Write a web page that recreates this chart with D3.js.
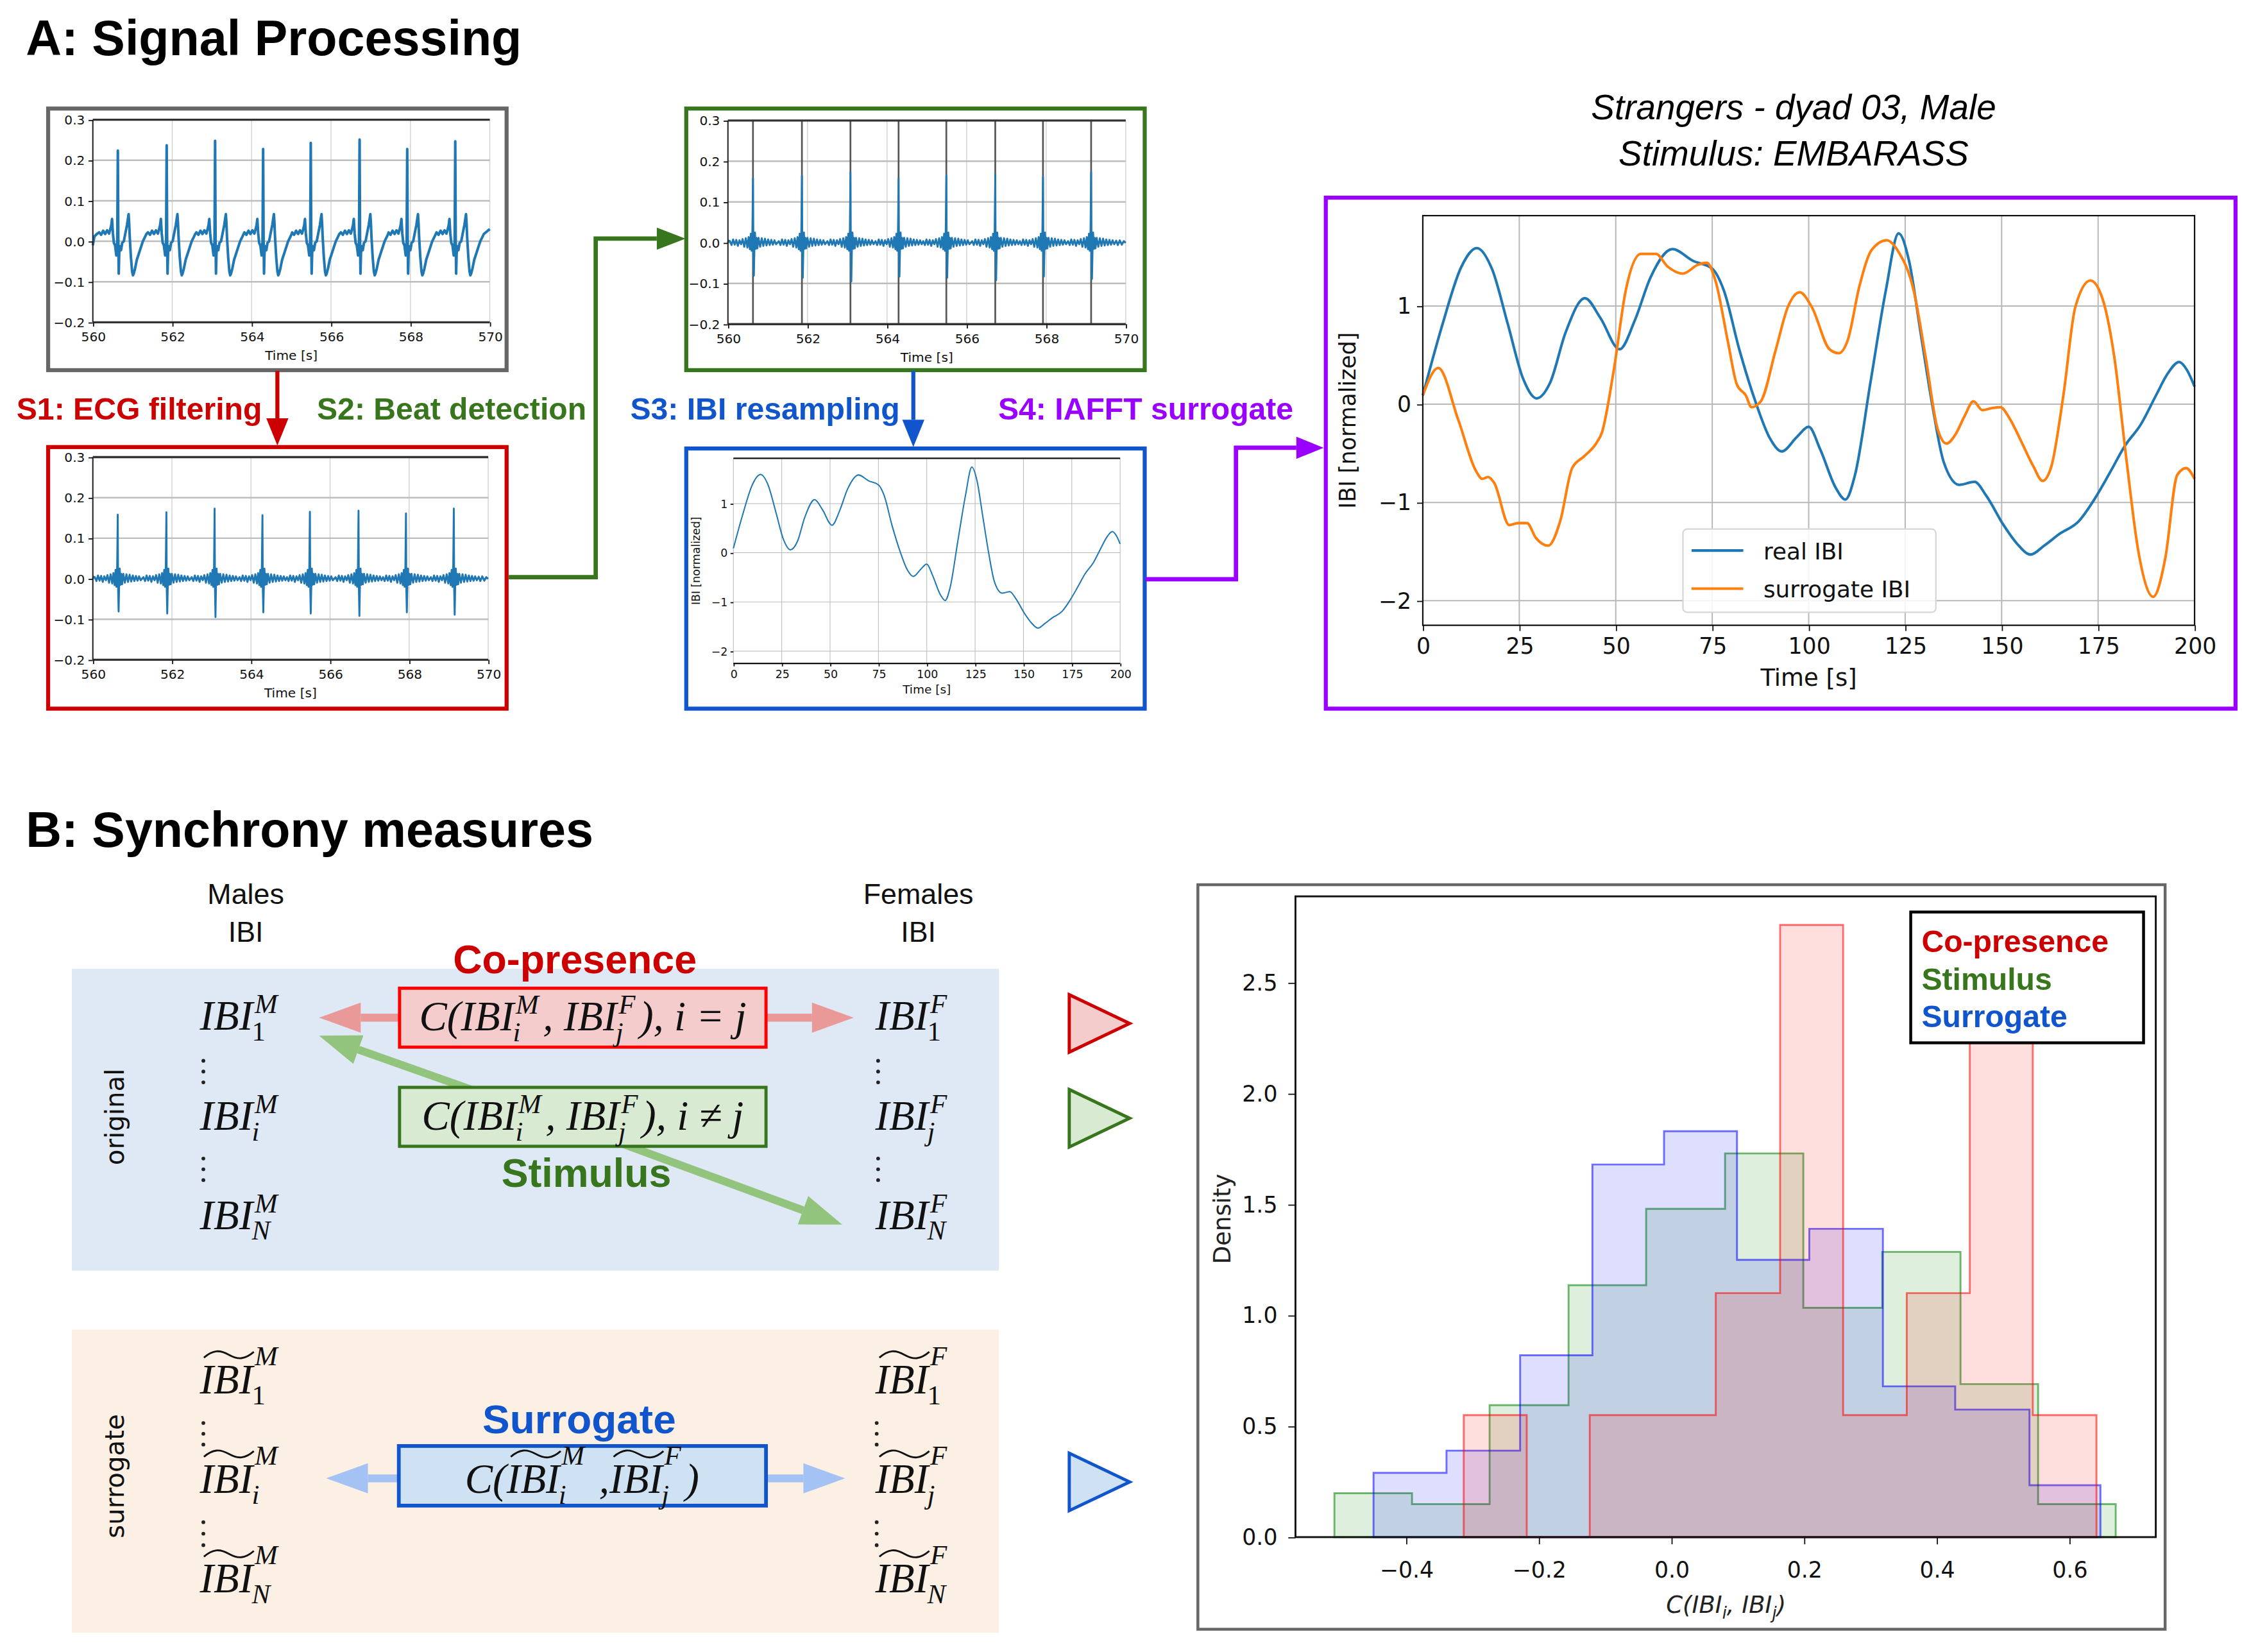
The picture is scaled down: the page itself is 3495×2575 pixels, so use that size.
<!DOCTYPE html>
<html>
<head>
<meta charset="utf-8">
<script src="https://cdn.jsdelivr.net/npm/d3@7"></script>
<style>
  body { margin: 0; background: #fff; }
  svg { display: block; }
</style>
</head>
<body>
<script>
// ---------- values ----------

// ECG (10 s window), R-peak times and amplitudes
const beatTimes = [560.63, 561.86, 563.08, 564.29, 565.49, 566.72, 567.92, 569.13];
const rawPeaks = [0.224, 0.237, 0.248, 0.228, 0.243, 0.251, 0.228, 0.247];
const filtPeaks = [0.158, 0.164, 0.173, 0.157, 0.165, 0.168, 0.161, 0.173];
const filtTroughs = [-0.081, -0.086, -0.095, -0.083, -0.086, -0.092, -0.083, -0.089];

// one raw beat around its R peak (seconds from peak, mV)
const rawShapeDt = [-0.47, -0.42, -0.37, -0.32, -0.27, -0.22, -0.19, -0.165, -0.146, -0.125,
  -0.10, -0.07, -0.038, -0.015, 0.012, 0.022, 0.035, 0.05, 0.08, 0.11,
  0.15, 0.19, 0.23, 0.26, 0.271, 0.285, 0.30, 0.33, 0.36, 0.38,
  0.40, 0.434, 0.48, 0.53, 0.58, 0.63, 0.68, 0.72];
const rawShapeV = [0.022, 0.016, 0.026, 0.018, 0.027, 0.019, 0.03, 0.04, 0.055, 0.02,
  -0.004, -0.01, -0.035, 0.0, 0.0, -0.08, -0.03, -0.012, -0.022, -0.004,
  0.0, 0.02, 0.04, 0.06, 0.067, 0.045, 0.01, -0.04, -0.075, -0.084,
  -0.08, -0.067, -0.045, -0.03, -0.015, 0.0, 0.01, 0.018];
const rawLead = [[560.0, -0.01], [560.04, 0.012], [560.1, 0.018]];
const rawTail = [[570.0, 0.03]];

// one filtered beat (ripple around baseline), peak and trough come from the arrays above
const filtShapeDt = [-0.58, -0.54, -0.50, -0.46, -0.42, -0.38, -0.34, -0.30, -0.26, -0.22,
  -0.18, -0.14, -0.11, -0.08, -0.055, -0.035, -0.015, 0.01, 0.035, 0.05,
  0.07, 0.09, 0.11, 0.14, 0.18, 0.22, 0.26, 0.30, 0.34, 0.38,
  0.42, 0.46, 0.50, 0.54, 0.58];
const filtShapeV = [0.004, -0.006, 0.008, -0.005, 0.007, -0.008, 0.006, -0.004, 0.009, -0.010,
  0.011, -0.012, 0.014, -0.016, 0.022, -0.02, 0.03, -0.03, -0.02, 0.025,
  -0.015, 0.012, -0.014, 0.012, -0.010, 0.011, -0.008, 0.010, -0.007, 0.008,
  -0.006, 0.007, -0.005, 0.006, -0.004];
const filtLead = [[560.0, 0.0], [560.02, 0.005]];
const filtTail = [[569.76, 0.005], [569.8, -0.006], [569.85, 0.006], [569.9, -0.005], [569.95, 0.004], [570.0, 0.0]];

const ecgTickTimes = [560, 562, 564, 566, 568, 570];
const ecgTickVolts = [-0.2, -0.1, 0.0, 0.1, 0.2, 0.3];

// IBI (normalized), real and surrogate
const ibiTime = [0, 5, 10, 14, 18, 22, 26, 29.5, 33, 37, 42, 46, 51, 55, 59, 64.7, 70, 75, 78, 82,
  86, 90, 93, 97, 100, 103, 107, 109.5, 112, 116, 120, 123.3, 126, 129, 132, 135, 139, 143, 146, 150.5,
  154, 157.5, 161, 165, 170, 174, 178, 182, 186, 190, 193, 196, 198, 200];
const ibiReal = [0.09, 0.8, 1.4, 1.59, 1.37, 0.82, 0.26, 0.06, 0.22, 0.73, 1.08, 0.88, 0.56, 0.86, 1.29, 1.58, 1.46, 1.38, 1.16, 0.56,
  0.05, -0.35, -0.48, -0.33, -0.23, -0.46, -0.85, -0.97, -0.72, 0.22, 1.16, 1.74, 1.46, 0.73, 0.0, -0.59, -0.82, -0.79, -0.93, -1.23,
  -1.42, -1.53, -1.44, -1.32, -1.19, -0.97, -0.70, -0.42, -0.21, 0.09, 0.31, 0.43, 0.35, 0.18];
const surrTime = [0, 4, 9.2, 13.8, 15.4, 16.9, 18.5, 22.4, 24.7, 27, 29.3, 32.5, 35.6, 38.7, 41.8, 44.9, 46.4, 49.5, 52.6, 56.5,
  60.4, 63.5, 67.4, 71.3, 73.6, 75.9, 79, 81.4, 83.7, 85.2, 87.6, 91.5, 94.6, 97.7, 100.8, 105.4, 107.8, 110.1, 113.2, 116.3,
  120.2, 123.3, 127.2, 130.3, 133.4, 135.7, 138, 140.4, 142.7, 145, 147.4, 149.7, 152, 155.1, 158.2, 160.6, 162.9, 166, 169.1, 173,
  176.1, 179.2, 182.3, 185.4, 189.3, 192.4, 195.5, 197.8, 200];
const surrValues = [0.09, 0.37, -0.16, -0.68, -0.76, -0.74, -0.80, -1.23, -1.21, -1.21, -1.36, -1.44, -1.19, -0.65, -0.53, -0.40, -0.29, 0.35, 1.16, 1.53,
  1.53, 1.40, 1.33, 1.42, 1.44, 1.25, 0.65, 0.20, 0.09, -0.03, 0.03, 0.56, 0.99, 1.14, 0.99, 0.56, 0.52, 0.65, 1.21, 1.57,
  1.67, 1.55, 1.16, 0.48, -0.25, -0.40, -0.31, -0.12, 0.03, -0.06, -0.04, -0.03, -0.14, -0.38, -0.63, -0.78, -0.63, 0.09, 0.99, 1.26,
  1.08, 0.48, -0.55, -1.49, -1.96, -1.57, -0.72, -0.65, -0.76];
const ibiTickTimes = [0, 25, 50, 75, 100, 125, 150, 175, 200];
const ibiTickValues = [-2, -1, 0, 1];

// histograms of C(IBI_i, IBI_j), density per bin
const copresenceEdges = [-0.313, -0.218, -0.123, -0.028, 0.067, 0.164, 0.259, 0.355, 0.450, 0.545, 0.641];
const copresenceDensity = [0.55, 0, 0.55, 0.55, 1.10, 2.76, 0.55, 1.10, 2.76, 0.55];
const stimulusEdges = [-0.508, -0.391, -0.274, -0.155, -0.038, 0.081, 0.199, 0.318, 0.436, 0.553, 0.670];
const stimulusDensity = [0.198, 0.149, 0.595, 1.136, 1.48, 1.73, 1.034, 1.286, 0.69, 0.149];
const surrogateEdges = [-0.449, -0.339, -0.228, -0.119, -0.011, 0.099, 0.208, 0.319, 0.428, 0.540, 0.647];
const surrogateDensity = [0.29, 0.39, 0.82, 1.68, 1.83, 1.25, 1.39, 0.68, 0.575, 0.234];
const histTicksX = [-0.4, -0.2, 0.0, 0.2, 0.4, 0.6];
const histTicksY = [0.0, 0.5, 1.0, 1.5, 2.0, 2.5];
const legendLabels = ['Co-presence', 'Stimulus', 'Surrogate'];

// ---------- drawing ----------
const W = 1560, H = 1149.3;
const SANS = "'Liberation Sans', Arial, sans-serif";
const MPL = "'DejaVu Sans', sans-serif";
const SERIF = "'Liberation Serif', 'Times New Roman', serif";
const RED = '#cc0000', GREEN = '#38761d', BLUE = '#1155cc', PURPLE = '#9900ff';
const MPL_BLUE = '#1f77b4', MPL_ORANGE = '#ff7f0e';

const svg = d3.select('body').append('svg')
    .attr('width', 3495).attr('height', 2575)
    .attr('viewBox', `0 0 ${W} ${H}`);
svg.append('rect').attr('width', W).attr('height', H).attr('fill', '#fff');

function label(x, y, str, size, color, opts = {}) {
  return svg.append('text')
      .attr('x', x).attr('y', y)
      .attr('font-family', opts.family || SANS)
      .attr('font-size', size)
      .attr('font-weight', opts.weight || 'bold')
      .attr('font-style', opts.style || 'normal')
      .attr('text-anchor', opts.anchor || 'start')
      .attr('fill', color)
      .text(str);
}

function styleAxis(a, size) {
  a.select('.domain').remove();
  a.selectAll('text').attr('font-family', MPL).attr('font-size', size).attr('fill', '#111');
  a.selectAll('.tick line').attr('stroke', '#111').attr('stroke-width', 0.8);
}

function buildEcg(shapeDt, shapeV, peaks, troughs, lead, tail) {
  const pts = lead.slice();
  beatTimes.forEach((t0, k) => {
    const beat = shapeDt.map((dt, i) => [t0 + dt, shapeV[i]]);
    beat.push([t0, peaks[k]]);
    if (troughs) beat.push([t0 + 0.022, troughs[k]]);
    beat.sort((a, b) => a[0] - b[0]);
    pts.push(...beat);
  });
  return pts.concat(tail);
}

function ecgPanel(box, plot, stroke, series, lineWidth, showBeats) {
  svg.append('rect')
      .attr('x', box.x).attr('y', box.y).attr('width', box.w).attr('height', box.h)
      .attr('fill', '#fff').attr('stroke', stroke).attr('stroke-width', 2.8);

  const x = d3.scaleLinear().domain([560, 570]).range([plot.x0, plot.x1]);
  const y = d3.scaleLinear().domain([-0.2, 0.3]).range([plot.y1, plot.y0]);
  const g = svg.append('g');

  g.selectAll('line.vg').data(ecgTickTimes).join('line').attr('class', 'vg')
      .attr('x1', d => x(d)).attr('x2', d => x(d)).attr('y1', plot.y0).attr('y2', plot.y1)
      .attr('stroke', '#cfcfcf').attr('stroke-width', 0.6);
  g.selectAll('line.hg').data(ecgTickVolts.slice(1, -1)).join('line').attr('class', 'hg')
      .attr('x1', plot.x0).attr('x2', plot.x1).attr('y1', d => y(d)).attr('y2', d => y(d))
      .attr('stroke', '#bdbdbd').attr('stroke-width', 1.1);

  if (showBeats) {
    g.selectAll('line.beat').data(beatTimes).join('line').attr('class', 'beat')
        .attr('x1', d => x(d)).attr('x2', d => x(d)).attr('y1', plot.y0).attr('y2', plot.y1)
        .attr('stroke', '#555').attr('stroke-width', 1.2);
  }

  g.append('path').datum(series)
      .attr('d', d3.line().x(d => x(d[0])).y(d => y(d[1])))
      .attr('fill', 'none').attr('stroke', MPL_BLUE)
      .attr('stroke-width', lineWidth).attr('stroke-linejoin', 'round');

  // frame: dark top / bottom, left spine
  [0.3, -0.2].forEach(v => {
    g.append('line').attr('x1', plot.x0).attr('x2', plot.x1).attr('y1', y(v)).attr('y2', y(v))
        .attr('stroke', '#333').attr('stroke-width', 1.5);
  });
  g.append('line').attr('x1', plot.x0).attr('x2', plot.x0).attr('y1', plot.y0).attr('y2', plot.y1)
      .attr('stroke', '#222').attr('stroke-width', 0.9);

  const fmt = d3.format('.1f');
  g.append('g').attr('transform', `translate(${plot.x0},0)`)
      .call(d3.axisLeft(y).tickValues(ecgTickVolts).tickFormat(fmt).tickSize(3).tickPadding(2.5))
      .call(a => styleAxis(a, 9));
  g.append('g').attr('transform', `translate(0,${plot.y1})`)
      .call(d3.axisBottom(x).tickValues(ecgTickTimes).tickFormat(d3.format('d')).tickSize(3).tickPadding(4))
      .call(a => styleAxis(a, 9));

  g.append('text').attr('x', (plot.x0 + plot.x1) / 2).attr('y', plot.y1 + 26)
      .attr('text-anchor', 'middle').attr('font-family', MPL).attr('font-size', 9).attr('fill', '#111')
      .text('Time [s]');
}

function ibiPanel(plot, s, withSurrogate) {
  const x = d3.scaleLinear().domain([0, 200]).range([plot.x0, plot.x1]);
  const y = d3.scaleLinear().domain([-2.25, 1.92]).range([plot.y1, plot.y0]);
  const g = svg.append('g');

  g.selectAll('line.vg').data(ibiTickTimes).join('line').attr('class', 'vg')
      .attr('x1', d => x(d)).attr('x2', d => x(d)).attr('y1', plot.y0).attr('y2', plot.y1)
      .attr('stroke', '#b8b8b8').attr('stroke-width', 0.9 * s);
  g.selectAll('line.hg').data(ibiTickValues).join('line').attr('class', 'hg')
      .attr('x1', plot.x0).attr('x2', plot.x1).attr('y1', d => y(d)).attr('y2', d => y(d))
      .attr('stroke', '#b8b8b8').attr('stroke-width', 0.9 * s);

  const line = d3.line().curve(d3.curveMonotoneX).x(d => x(d[0])).y(d => y(d[1]));
  g.append('path').datum(ibiTime.map((t, i) => [t, ibiReal[i]]))
      .attr('d', line).attr('fill', 'none').attr('stroke', MPL_BLUE).attr('stroke-width', 1.8 * s);
  if (withSurrogate) {
    g.append('path').datum(surrTime.map((t, i) => [t, surrValues[i]]))
        .attr('d', line).attr('fill', 'none').attr('stroke', MPL_ORANGE).attr('stroke-width', 1.8 * s);
  }

  if (withSurrogate) {
    g.append('rect').attr('x', plot.x0).attr('y', plot.y0)
        .attr('width', plot.x1 - plot.x0).attr('height', plot.y1 - plot.y0)
        .attr('fill', 'none').attr('stroke', '#111').attr('stroke-width', 1);
  } else {
    [plot.y0, plot.y1].forEach(v => {
      g.append('line').attr('x1', plot.x0).attr('x2', plot.x1).attr('y1', v).attr('y2', v)
          .attr('stroke', '#111').attr('stroke-width', 1);
    });
  }

  const fs = 15.5 * s;
  g.append('g').attr('transform', `translate(${plot.x0},0)`)
      .call(d3.axisLeft(y).tickValues(ibiTickValues).tickFormat(d3.format('d')).tickSize(4 * s).tickPadding(4 * s))
      .call(a => styleAxis(a, fs));
  g.append('g').attr('transform', `translate(0,${plot.y1})`)
      .call(d3.axisBottom(x).tickValues(ibiTickTimes).tickFormat(d3.format('d')).tickSize(4 * s).tickPadding(5 * s))
      .call(a => styleAxis(a, fs));

  g.append('text').attr('x', (plot.x0 + plot.x1) / 2).attr('y', plot.y1 + 42 * s)
      .attr('text-anchor', 'middle').attr('font-family', MPL).attr('font-size', 16.5 * s).attr('fill', '#111')
      .text('Time [s]');
  const ly = (plot.y0 + plot.y1) / 2, lx = plot.x0 - 47 * s;
  g.append('text').attr('transform', `translate(${lx},${ly}) rotate(-90)`)
      .attr('text-anchor', 'middle').attr('font-family', MPL).attr('font-size', 15.5 * s).attr('fill', '#111')
      .text('IBI [normalized]');
  return g;
}

function arrow(points, color, width, headLen, headHalf) {
  const n = points.length;
  const [xa, ya] = points[n - 2], [xb, yb] = points[n - 1];
  const ang = Math.atan2(yb - ya, xb - xa);
  const base = [xb - headLen * Math.cos(ang), yb - headLen * Math.sin(ang)];
  svg.append('polyline').attr('points', points.slice(0, -1).concat([base]).join(' '))
      .attr('fill', 'none').attr('stroke', color).attr('stroke-width', width);
  const px = -Math.sin(ang) * headHalf, py = Math.cos(ang) * headHalf;
  svg.append('polygon')
      .attr('points', [[xb, yb], [base[0] + px, base[1] + py], [base[0] - px, base[1] - py]].join(' '))
      .attr('fill', color);
}

// ========== A: Signal Processing ==========
label(18, 38.5, 'A: Signal Processing', 34.5, '#000');

const rawSeries = buildEcg(rawShapeDt, rawShapeV, rawPeaks, null, rawLead, rawTail);
const filtSeries = buildEcg(filtShapeDt, filtShapeV, filtPeaks, filtTroughs, filtLead, filtTail);

ecgPanel({x: 33.5, y: 75.5, w: 319, h: 182}, {x0: 64.6, x1: 340.8, y0: 83.3, y1: 224.2}, '#666', rawSeries, 1.8, false);
ecgPanel({x: 33.5, y: 311, w: 319, h: 182}, {x0: 64.6, x1: 339.7, y0: 318, y1: 459}, RED, filtSeries, 1.3, false);
ecgPanel({x: 477.5, y: 75.5, w: 319, h: 182}, {x0: 506.5, x1: 783.3, y0: 83.8, y1: 225.5}, GREEN, filtSeries, 1.3, true);

// blue box with the resampled IBI
svg.append('rect').attr('x', 477.5).attr('y', 312).attr('width', 319).attr('height', 181)
    .attr('fill', '#fff').attr('stroke', BLUE).attr('stroke-width', 2.8);
ibiPanel({x0: 510.3, x1: 779.4, y0: 318.8, y1: 461.6}, 0.5, false);

// purple box with real vs surrogate
svg.append('rect').attr('x', 922.5).attr('y', 137.5).attr('width', 633).attr('height', 355.5)
    .attr('fill', '#fff').attr('stroke', PURPLE).attr('stroke-width', 2.8);
const big = ibiPanel({x0: 990, x1: 1527, y0: 150, y1: 435}, 1, true);
label(1248, 83, 'Strangers - dyad 03, Male', 24.5, '#000', {weight: 'normal', style: 'italic', anchor: 'middle'});
label(1248, 115, 'Stimulus: EMBARASS', 24.5, '#000', {weight: 'normal', style: 'italic', anchor: 'middle'});

const leg = big.append('g');
leg.append('rect').attr('x', 1171).attr('y', 368).attr('width', 176).attr('height', 58).attr('rx', 3)
    .attr('fill', '#fff').attr('fill-opacity', 0.85).attr('stroke', '#d6d6d6').attr('stroke-width', 1);
[['real IBI', MPL_BLUE, 383], ['surrogate IBI', MPL_ORANGE, 409.5]].forEach(([name, col, ly]) => {
  leg.append('line').attr('x1', 1177).attr('x2', 1213).attr('y1', ly).attr('y2', ly)
      .attr('stroke', col).attr('stroke-width', 1.8);
  leg.append('text').attr('x', 1227).attr('y', ly + 6).attr('font-family', MPL).attr('font-size', 16)
      .attr('fill', '#111').text(name);
});

// connectors between the processing steps
arrow([[193, 258], [193, 310]], RED, 2.8, 19, 7.7);
arrow([[354, 401.5], [414.5, 401.5], [414.5, 166], [477, 166]], GREEN, 3, 20, 7.7);
arrow([[635.5, 258], [635.5, 311]], BLUE, 2.8, 19, 7.7);
arrow([[797, 403], [860, 403], [860, 311.5], [921, 311.5]], PURPLE, 3, 19, 7.7);

label(11.5, 292, 'S1: ECG filtering', 21.5, RED);
label(220.5, 292, 'S2: Beat detection', 21.5, GREEN);
label(438.5, 292, 'S3: IBI resampling', 21.5, BLUE);
label(694.5, 292, 'S4: IAFFT surrogate', 21.5, PURPLE);

// ========== B: Synchrony measures ==========
label(18, 589, 'B: Synchrony measures', 34.5, '#000');

label(171, 629, 'Males', 20, '#111', {weight: 'normal', anchor: 'middle'});
label(171, 655, 'IBI', 20, '#111', {weight: 'normal', anchor: 'middle'});
label(639, 629, 'Females', 20, '#111', {weight: 'normal', anchor: 'middle'});
label(639, 655, 'IBI', 20, '#111', {weight: 'normal', anchor: 'middle'});

svg.append('rect').attr('x', 50).attr('y', 674).attr('width', 645).attr('height', 210).attr('fill', '#dfe9f5');
svg.append('rect').attr('x', 50).attr('y', 925).attr('width', 645).attr('height', 211).attr('fill', '#fcefe3');

svg.append('text').attr('transform', 'translate(80,777) rotate(-90)').attr('dy', '0.35em')
    .attr('text-anchor', 'middle').attr('font-family', MPL).attr('font-size', 18).attr('fill', '#111').text('original');
svg.append('text').attr('transform', 'translate(80,1027) rotate(-90)').attr('dy', '0.35em')
    .attr('text-anchor', 'middle').attr('font-family', MPL).attr('font-size', 18).attr('fill', '#111').text('surrogate');

function measure(str, size, style) {
  const t = svg.append('text').attr('font-family', SERIF).attr('font-style', style || 'italic')
      .attr('font-size', size).style('white-space', 'pre').text(str);
  const w = t.node().getComputedTextLength();
  t.remove();
  return w;
}

// a formula as one text element: base runs with stacked super/subscripts placed by tspans
function mathTerm(x, y, parts, size, anchor, maxWidth) {
  const g = svg.append('g');
  const text = g.append('text').attr('x', 0).attr('y', 0).style('white-space', 'pre')
      .attr('font-family', SERIF).attr('font-style', 'italic').attr('font-size', size).attr('fill', '#111');
  const ss = size * 0.66;
  let cx = 0;
  parts.forEach(p => {
    const w = measure(p.t, size);
    text.append('tspan').attr('x', cx).attr('y', 0).text(p.t);
    if (p.tilde) {
      const ty = -0.93 * size, x0 = cx + 0.1 * size, x1 = cx + w + 0.02 * size, mw = x1 - x0;
      g.append('path')
          .attr('d', `M${x0},${ty + 2} C${x0 + mw * 0.18},${ty - 3.5} ${x0 + mw * 0.32},${ty - 3.5} ${x0 + mw * 0.5},${ty}` +
              ` S${x0 + mw * 0.82},${ty + 3.5} ${x1},${ty - 2}`)
          .attr('fill', 'none').attr('stroke', '#111').attr('stroke-width', size * 0.045);
    }
    cx += w;
    if (p.sub || p.sup) {
      let extra = 0;
      if (p.sup) {
        text.append('tspan').attr('x', cx + 0.04 * size).attr('y', p.tilde ? -0.68 * size : -0.4 * size)
            .attr('font-size', ss).text(p.sup);
        extra = Math.max(extra, measure(p.sup, ss) + 0.04 * size);
      }
      if (p.sub) {
        const upright = /^[0-9]$/.test(p.sub);
        text.append('tspan').attr('x', cx - 0.03 * size).attr('y', 0.26 * size)
            .attr('font-size', ss).attr('font-style', upright ? 'normal' : 'italic').text(p.sub);
        extra = Math.max(extra, measure(p.sub, ss, upright ? 'normal' : 'italic') - 0.03 * size);
      }
      cx += extra + 0.1 * size;
    }
  });
  const k = maxWidth && cx > maxWidth ? maxWidth / cx : 1;
  const dx = anchor === 'middle' ? -cx * k / 2 : 0;
  g.attr('transform', `translate(${x + dx},${y}) scale(${k},1)`);
}

function dots(x, ys) {
  ys.forEach(v => svg.append('circle').attr('cx', x).attr('cy', v).attr('r', 1.3).attr('fill', '#222'));
}

// original: columns of IBI terms
const origRows = [['1', '1', 716.5], ['i', 'j', 786], ['N', 'N', 855]];
origRows.forEach(([sm, sf, by]) => {
  mathTerm(139, by, [{t: 'IBI', sub: sm, sup: 'M'}], 29);
  mathTerm(609, by, [{t: 'IBI', sub: sf, sup: 'F'}], 29);
});
dots(141.5, [738, 745.5, 753]); dots(141.5, [806, 813.5, 821]);
dots(611, [738, 745.5, 753]); dots(611, [806, 813.5, 821]);

// surrogate: columns of tilde IBI terms
const surrRows = [['1', '1', 969.5], ['i', 'j', 1038.5], ['N', 'N', 1108]];
surrRows.forEach(([sm, sf, by]) => {
  mathTerm(139, by, [{t: 'IBI', sub: sm, sup: 'M', tilde: true}], 29);
  mathTerm(609, by, [{t: 'IBI', sub: sf, sup: 'F', tilde: true}], 29);
});
dots(141.5, [990, 997.5, 1005]); dots(141.5, [1059, 1067, 1075]);
dots(610, [990, 997.5, 1005]); dots(610, [1059, 1067, 1075]);

// arrows of the three measures (drawn below the boxes)
arrow([[278, 708], [222, 708]], '#ea9999', 5.5, 29, 10.5);
arrow([[533, 708], [594, 708]], '#ea9999', 5.5, 29, 10.5);
arrow([[404, 785], [222, 720.5]], '#93c47d', 5.5, 29, 10.5);
arrow([[404, 785], [586, 852]], '#93c47d', 5.5, 29, 10.5);
arrow([[277, 1028.5], [227, 1028.5]], '#a4c2f4', 5.5, 29, 10.5);
arrow([[533, 1028.5], [588, 1028.5]], '#a4c2f4', 5.5, 29, 10.5);

svg.append('rect').attr('x', 278).attr('y', 687.5).attr('width', 255).attr('height', 41)
    .attr('fill', '#f4cccc').attr('stroke', '#ff0000').attr('stroke-width', 2.2);
svg.append('rect').attr('x', 278).attr('y', 756.5).attr('width', 255).attr('height', 41)
    .attr('fill', '#d9ead3').attr('stroke', GREEN).attr('stroke-width', 2.2);
svg.append('rect').attr('x', 277.5).attr('y', 1006).attr('width', 255.5).attr('height', 41.5)
    .attr('fill', '#cfe2f3').attr('stroke', BLUE).attr('stroke-width', 2.6);

mathTerm(405.5, 717, [{t: 'C(IBI', sub: 'i', sup: 'M'}, {t: ',\u00a0IBI', sub: 'j', sup: 'F'}, {t: '),\u00a0i\u00a0=\u00a0j'}], 29, 'middle', 246);
mathTerm(405.5, 786, [{t: 'C(IBI', sub: 'i', sup: 'M'}, {t: ',\u00a0IBI', sub: 'j', sup: 'F'}, {t: '),\u00a0i\u00a0\u2260\u00a0j'}], 29, 'middle', 246);
mathTerm(405, 1038.5, [{t: 'C('}, {t: 'IBI', sub: 'i', sup: 'M', tilde: true}, {t: '\u00a0,'},
  {t: 'IBI', sub: 'j', sup: 'F', tilde: true}, {t: ')'}], 29, 'middle', 246);

label(400, 677, 'Co-presence', 28, RED, {anchor: 'middle'});
label(408, 825.5, 'Stimulus', 28, GREEN, {anchor: 'middle'});
label(403, 997, 'Surrogate', 28.5, BLUE, {anchor: 'middle'});

// outlined triangles pointing to the histogram
[[692, '#f4cccc', RED], [758, '#d9ead3', GREEN], [1011, '#cfe2f3', BLUE]].forEach(([ty, fill, col]) => {
  svg.append('polygon').attr('points', [[744, ty], [744, ty + 40], [786, ty + 20]].join(' '))
      .attr('fill', fill).attr('stroke', col).attr('stroke-width', 2.2);
});

// histogram panel
svg.append('rect').attr('x', 833.5).attr('y', 615.5).attr('width', 673).attr('height', 518)
    .attr('fill', '#fff').attr('stroke', '#666').attr('stroke-width', 2);

const hx = d3.scaleLinear().domain([-0.5667, 0.7304]).range([901.4, 1500]);
const hy = d3.scaleLinear().domain([0, 2.889]).range([1069.4, 623.6]);
const hg = svg.append('g');

function stepPoints(edges, dens) {
  const pts = [[edges[0], 0]];
  dens.forEach((d, i) => { pts.push([edges[i], d], [edges[i + 1], d]); });
  pts.push([edges[edges.length - 1], 0]);
  return pts;
}
const stepLine = d3.line().x(p => hx(p[0])).y(p => hy(p[1]));
[[stimulusEdges, stimulusDensity, '#008000'],
  [surrogateEdges, surrogateDensity, '#0000ff'],
  [copresenceEdges, copresenceDensity, '#ff0000']].forEach(([e, d, col]) => {
  hg.append('path').datum(stepPoints(e, d))
      .attr('d', p => stepLine(p) + 'Z')
      .attr('fill', col).attr('fill-opacity', 0.13)
      .attr('stroke', col).attr('stroke-opacity', 0.55).attr('stroke-width', 1.3);
});

hg.append('rect').attr('x', 901.4).attr('y', 623.6).attr('width', 1500 - 901.4).attr('height', 1069.4 - 623.6)
    .attr('fill', 'none').attr('stroke', '#111').attr('stroke-width', 1.3);
hg.append('g').attr('transform', 'translate(0,1069.4)')
    .call(d3.axisBottom(hx).tickValues(histTicksX).tickFormat(d3.format('.1f')).tickSize(5).tickPadding(12))
    .call(a => styleAxis(a, 15.5));
hg.append('g').attr('transform', 'translate(901.4,0)')
    .call(d3.axisLeft(hy).tickValues(histTicksY).tickFormat(d3.format('.1f')).tickSize(5).tickPadding(7.5))
    .call(a => styleAxis(a, 15.5));

hg.append('text').attr('transform', 'translate(850.5,848) rotate(-90)').attr('dy', '0.35em')
    .attr('text-anchor', 'middle').attr('font-family', MPL).attr('font-size', 16.5).attr('fill', '#222').text('Density');
const xl = hg.append('text').attr('x', 1201).attr('y', 1122).attr('text-anchor', 'middle')
    .attr('font-family', MPL).attr('font-style', 'italic').attr('font-size', 16.5).attr('fill', '#222');
xl.append('tspan').text('C(IBI');
xl.append('tspan').attr('dy', 4).attr('font-size', 11.5).text('i');
xl.append('tspan').attr('dy', -4).text(', IBI');
xl.append('tspan').attr('dy', 4).attr('font-size', 11.5).text('j');
xl.append('tspan').attr('dy', -4).text(')');

// legend
hg.append('rect').attr('x', 1329.5).attr('y', 634.5).attr('width', 162).attr('height', 91)
    .attr('fill', '#fff').attr('stroke', '#000').attr('stroke-width', 2);
legendLabels.forEach((name, i) => {
  hg.append('text').attr('x', 1337).attr('y', 662.5 + i * 26)
      .attr('font-family', SANS).attr('font-weight', 'bold').attr('font-size', 21.5)
      .attr('fill', [RED, GREEN, BLUE][i]).text(name);
});
</script>
</body>
</html>
